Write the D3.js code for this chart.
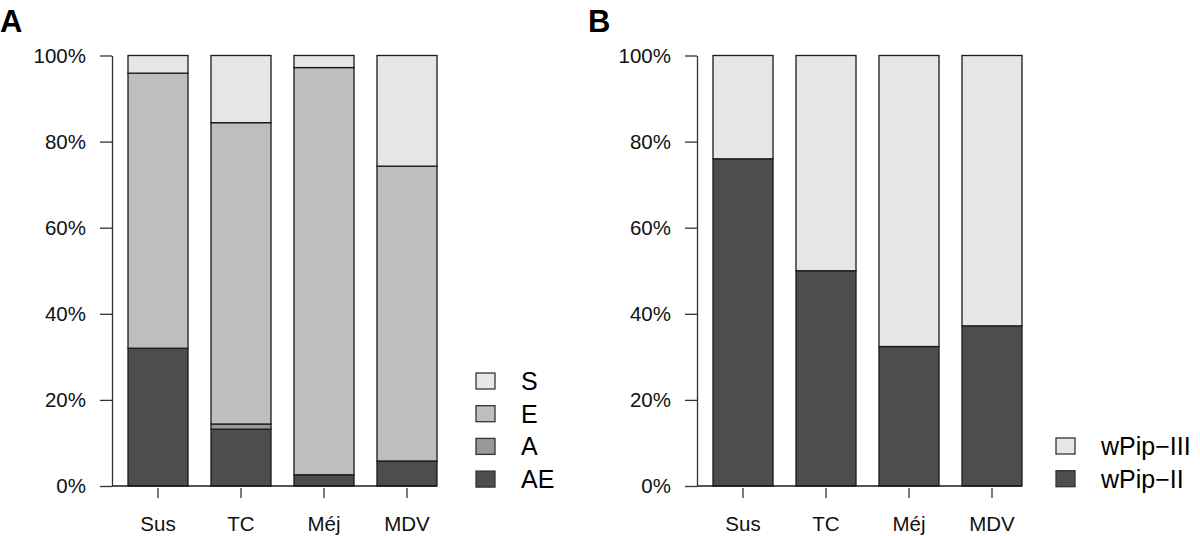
<!DOCTYPE html>
<html>
<head>
<meta charset="utf-8">
<script src="https://cdn.jsdelivr.net/npm/d3@7"></script>
<style>
  body { margin: 0; background: #fff; }
  svg { display: block; font-family: "Liberation Sans", Arial, Helvetica, sans-serif; }
</style>
</head>
<body>
<svg id="chart" width="1200" height="536"></svg>
<script>
// ---- data ----
const categories = ["Sus", "TC", "Méj", "MDV"];
const yTicks = [0, 20, 40, 60, 80, 100];

// Panel A (percent, stacked bottom -> top: AE, A, E, S)
const seriesA = ["AE", "A", "E", "S"];
const AE = [32.0, 13.2, 2.6, 5.8];
const A_ = [0.0, 1.2, 0.0, 0.0];
const E  = [63.9, 70.0, 94.6, 68.5];
const S  = [4.1, 15.6, 2.8, 25.7];

// Panel B (percent, stacked bottom -> top: wPip-II, wPip-III)
const seriesB = ["wPip\u2212II", "wPip\u2212III"];
const wPipII  = [76.0, 50.0, 32.4, 37.2];
const wPipIII = [24.0, 50.0, 67.6, 62.8];

// ---- styles ----
const colA = { "AE": "#4d4d4d", "A": "#999999", "E": "#bebebe", "S": "#e6e6e6" };
const colB = { "wPip\u2212II": "#4d4d4d", "wPip\u2212III": "#e6e6e6" };

const svg = d3.select("#chart");
const y = d3.scaleLinear().domain([0, 100]).range([486, 55.5]);

function panel(opts) {
  const g = svg.append("g");
  const x = d3.scaleBand().domain(categories)
    .range([opts.x0, opts.x0 + 309]).paddingInner(0.277).paddingOuter(0);

  const rows = categories.map((c, i) => {
    const r = { cat: c };
    opts.keys.forEach((k, j) => r[k] = opts.values[j][i]);
    return r;
  });
  const stack = d3.stack().keys(opts.keys)(rows);

  stack.forEach(layer => {
    g.selectAll(null).data(layer).enter().append("rect")
      .attr("x", d => x(d.data.cat))
      .attr("width", x.bandwidth())
      .attr("y", d => y(d[1]))
      .attr("height", d => Math.max(0, y(d[0]) - y(d[1])))
      .attr("fill", opts.colors[layer.key])
      .attr("stroke", "#1a1a1a")
      .attr("stroke-width", 1.3);
  });

  // baseline
  g.append("line")
    .attr("x1", opts.axisX).attr("x2", x(categories[categories.length - 1]) + x.bandwidth())
    .attr("y1", y(0)).attr("y2", y(0))
    .attr("stroke", "#1a1a1a").attr("stroke-width", 1.3);

  // y axis
  const ya = d3.axisLeft(y).tickValues(yTicks).tickFormat(d => d + "%")
    .tickSize(12).tickSizeOuter(0).tickPadding(14);
  const yg = g.append("g").attr("transform", `translate(${opts.axisX},0)`).call(ya);
  yg.select(".domain").attr("stroke", "#333").attr("stroke-width", 1.3);
  yg.selectAll(".tick line").attr("stroke", "#333").attr("stroke-width", 1.3);
  yg.selectAll(".tick text").attr("font-size", 20.5).attr("fill", "#111")
    .attr("font-family", "Liberation Sans, Arial, sans-serif");

  // x ticks & labels
  const xa = d3.axisBottom(x).tickSize(10).tickPadding(18).tickSizeOuter(0);
  const xg = g.append("g").attr("transform", `translate(0,${y(0) + 2})`).call(xa);
  xg.select(".domain").remove();
  xg.selectAll(".tick line").attr("stroke", "#333").attr("stroke-width", 1.3);
  xg.selectAll(".tick text").attr("font-size", 20.5).attr("fill", "#111")
    .attr("font-family", "Liberation Sans, Arial, sans-serif");

  // panel letter
  g.append("text").attr("x", opts.letterX).attr("y", 32)
    .attr("font-size", 31).attr("font-weight", "bold").attr("fill", "#000")
    .text(opts.letter);

  // legend (top -> bottom reversed order of stacking)
  const leg = opts.keys.slice().reverse();
  const lg = g.append("g");
  leg.forEach((k, i) => {
    const yy = opts.legY + i * opts.legStep;
    lg.append("rect").attr("x", opts.legX).attr("y", yy - 8)
      .attr("width", 19).attr("height", 16)
      .attr("fill", opts.colors[k]).attr("stroke", "#333").attr("stroke-width", 1.3);
    lg.append("text").attr("x", opts.legX + 45).attr("y", yy + 9)
      .attr("font-size", 25).attr("fill", "#000").text(k);
  });
}

panel({
  x0: 128, axisX: 112, keys: seriesA, values: [AE, A_, E, S], colors: colA,
  letter: "A", letterX: 0, legX: 476, legY: 381, legStep: 32.7
});
panel({
  x0: 713, axisX: 697, keys: seriesB, values: [wPipII, wPipIII], colors: colB,
  letter: "B", letterX: 588, legX: 1056, legY: 446, legStep: 32.7
});
</script>
</body>
</html>
